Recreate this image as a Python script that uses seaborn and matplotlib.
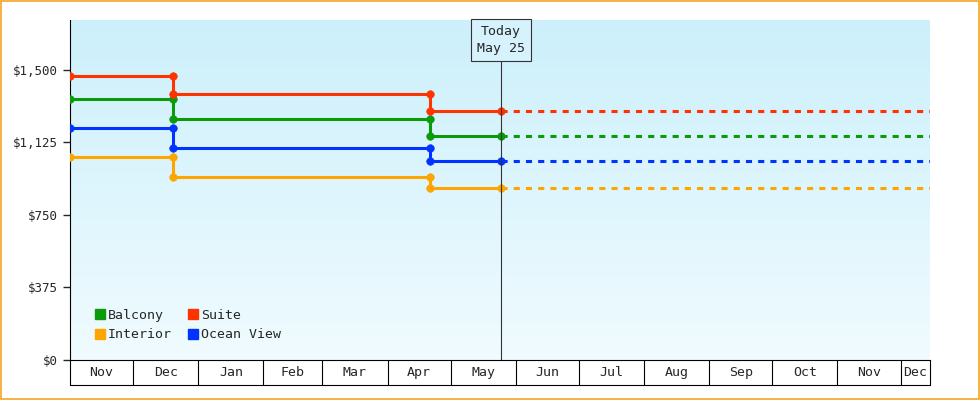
import matplotlib
matplotlib.use("Agg")
import matplotlib.pyplot as plt
import matplotlib.dates as mdates
import matplotlib.transforms as mtrans
import seaborn as sns
import pandas as pd
import numpy as np
from matplotlib.patches import Rectangle, Patch

sns.set_style("white")
plt.rcParams['font.family'] = ['DejaVu Sans Mono']

change_dates = ["2024-11-01", "2024-12-20", "2025-04-21", "2025-05-25"]
end_date = "2025-12-15"
today = "2025-05-25"
series = ["Balcony", "Suite", "Interior", "Ocean View"]
colors = {"Balcony": "#0a9a0a", "Suite": "#ff3300", "Interior": "#ffa500", "Ocean View": "#0033ff"}
prices = {
    "Balcony": [1350, 1247, 1159],
    "Suite": [1470, 1375, 1290],
    "Interior": [1050, 947, 890],
    "Ocean View": [1200, 1097, 1029],
}
yticks = [0, 375, 750, 1125, 1500]
ytick_labels = ["$0", "$375", "$750", "$1,125", "$1,500"]

fig = plt.figure(figsize=(9.8, 4), dpi=100)
fig.patch.set_facecolor("white")
fig.add_artist(Rectangle((0.001, 0.002), 0.998, 0.996, transform=fig.transFigure,
                         fill=False, edgecolor="#f5a623", lw=1.2))
ax = fig.add_axes([70/980, 40/400, 860/980, 340/400])

d = pd.to_datetime(change_dates)
x0, x1 = pd.Timestamp("2024-11-01"), pd.Timestamp(end_date)
ax.set_xlim(x0, x1)
ax.set_ylim(0, 1758)

grad = np.linspace(0, 1, 256).reshape(-1, 1)
top = np.array([0.80, 0.94, 0.985]); bot = np.array([0.94, 0.985, 1.0])
img = bot + (top - bot) * grad[..., None].squeeze(1)[:, None, :]
ax.imshow(img, extent=[mdates.date2num(x0), mdates.date2num(x1), 0, 1758],
          origin="lower", aspect="auto", zorder=0)

for s in series:
    p = prices[s]
    df = pd.DataFrame({"date": list(d), "price": p + [p[-1]]})
    sns.lineplot(data=df, x="date", y="price", drawstyle="steps-post", color=colors[s],
                 lw=2.2, ax=ax, zorder=3)
    df2 = pd.DataFrame({"date": [d[-1], x1], "price": [p[-1], p[-1]]})
    sns.lineplot(data=df2, x="date", y="price", color=colors[s], lw=2.2, ls=(0, (2, 2)),
                 ax=ax, zorder=3)
    pts = pd.DataFrame({"date": [d[0], d[1], d[1], d[2], d[2], d[3]],
                        "price": [p[0], p[0], p[1], p[1], p[2], p[2]]})
    sns.scatterplot(data=pts, x="date", y="price", color=colors[s], s=30, edgecolor=colors[s],
                    ax=ax, zorder=4)

ax.set_xlabel(""); ax.set_ylabel("")
ax.set_yticks(yticks)
ax.set_yticklabels(ytick_labels, fontsize=9)
ax.tick_params(axis="y", length=5, left=True, width=1)
ax.set_xticks([])
for sp in ["top", "right"]:
    ax.spines[sp].set_visible(False)
ax.spines["left"].set_color("black")
ax.spines["bottom"].set_color("black")

# month boxes
tr = mtrans.blended_transform_factory(ax.transData, ax.transAxes)
bounds = pd.date_range("2024-12-01", "2025-12-01", freq="MS")
edges = [x0] + list(bounds) + [x1]
names = ["Nov", "Dec", "Jan", "Feb", "Mar", "Apr", "May", "Jun", "Jul", "Aug", "Sep", "Oct", "Nov", "Dec"]
h = 25/340
ax.plot([x0, x1], [-h, -h], transform=tr, color="black", lw=0.8, clip_on=False)
for e in edges:
    ax.plot([e, e], [0, -h], transform=tr, color="black", lw=0.8, clip_on=False)
for a, b, n in zip(edges[:-1], edges[1:], names):
    ax.text(a + (b - a) / 2, -h / 2, n, transform=tr, ha="center", va="center", fontsize=9.5)

# today
t = pd.Timestamp(today)
ax.plot([t, t], [0, 1 - 40/340], transform=tr, color="#333333", lw=0.8, zorder=5)
ax.text(t, 1 - 20/340, "Today\nMay 25", transform=tr, ha="center", va="center", fontsize=9.5,
        linespacing=1.4, zorder=6,
        bbox=dict(boxstyle="square,pad=0.45", fc="#d6f2fc", ec="#333333", lw=0.8))

handles = [Patch(color=colors[s]) for s in ["Balcony", "Interior", "Suite", "Ocean View"]]
ax.legend(handles, ["Balcony", "Interior", "Suite", "Ocean View"], ncol=2, loc="lower left",
          frameon=False, fontsize=9.5, handlelength=0.8, handleheight=0.8, handletextpad=0.2,
          columnspacing=1.2, labelspacing=0.5, bbox_to_anchor=(0.015, 0.02))

fig.savefig("out.png", dpi=100)
